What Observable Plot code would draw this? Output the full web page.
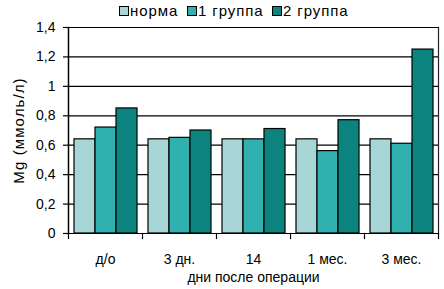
<!DOCTYPE html>
<html>
<head>
<meta charset="utf-8">
<script src="https://cdn.jsdelivr.net/npm/d3@7"></script>
<script src="https://cdn.jsdelivr.net/npm/@observablehq/plot@0.6"></script>
<style>
  html, body { margin: 0; padding: 0; background: #fff; }
  body { width: 444px; height: 289px; overflow: hidden; font-family: "Liberation Sans", Arial, sans-serif; }
  #legend { position: relative; height: 20px; }
  .item { position: absolute; top: 3px; display: flex; align-items: center; font-size: 15px; color: #000; line-height: 15px; letter-spacing: 0.9px; white-space: nowrap; }
  .sw { width: 8px; height: 8px; border: 1px solid #000; margin-right: 1px; }
  #chart g[aria-label="y-axis label"] text { font-size: 15px; letter-spacing: 1.1px; }
</style>
</head>
<body>
<div id="legend"></div>
<div id="chart"></div>
<script>
const categories = ["д/о", "3 дн.", "14", "1 мес.", "3 мес."];
const groups = ["норма", "1 группа", "2 группа"];
const colors = ["#a8d6d6", "#30b0ae", "#0b847f"];
const norma  = [0.64, 0.64, 0.64, 0.64, 0.64];
const group1 = [0.72, 0.65, 0.64, 0.56, 0.61];
const group2 = [0.85, 0.70, 0.71, 0.77, 1.25];
const yTicks = [0, 0.2, 0.4, 0.6, 0.8, 1, 1.2, 1.4];
const yLabel = "Mg (ммоль/л)";
const xLabel = "дни после операции";

const series = [norma, group1, group2];
const data = [];
categories.forEach((c, i) => groups.forEach((g, j) => data.push({cat: c, group: g, value: series[j][i]})));

// legend
const legendPos = [119, 187, 272];
const legend = document.getElementById("legend");
groups.forEach((g, j) => {
  const it = document.createElement("div");
  it.className = "item";
  it.style.left = legendPos[j] + "px";
  const sw = document.createElement("div");
  sw.className = "sw";
  sw.style.background = colors[j];
  const t = document.createElement("span");
  t.textContent = g;
  it.appendChild(sw); it.appendChild(t);
  legend.appendChild(it);
});

const fmt = d => String(d).replace(".", ",");

const chart = Plot.plot({
  width: 444,
  height: 269,
  marginTop: 7,
  marginLeft: 67,
  marginRight: 5,
  marginBottom: 56,
  style: {fontFamily: "'Liberation Sans', Arial, sans-serif", fontSize: "14px", color: "#000", background: "#fff"},
  fx: {domain: categories, padding: 0, label: null},
  x: {domain: groups, paddingInner: 0, paddingOuter: 0.25, axis: null},
  y: {domain: [0, 1.4], axis: null},
  color: {domain: groups, range: colors},
  marks: [
    Plot.ruleY(yTicks, {stroke: "#000", strokeWidth: 1.2}),
    Plot.barY(data, {fx: "cat", x: "group", y: "value", fill: "group", stroke: "#000", strokeWidth: 1.2, inset: 0}),
    Plot.frame({anchor: "left", facetAnchor: "left", stroke: "#000", strokeWidth: 1.5}),
    Plot.frame({anchor: "right", facetAnchor: "right", stroke: "#222", strokeWidth: 1.2}),
    Plot.frame({anchor: "left", stroke: "#000", strokeWidth: 1.2, insetTop: 206, insetBottom: -5}),
    Plot.frame({anchor: "right", facetAnchor: "right", stroke: "#000", strokeWidth: 1.2, insetTop: 206, insetBottom: -5}),
    Plot.axisY({ticks: yTicks, tickFormat: fmt, tickSize: 5, tickPadding: 8, stroke: "#000", strokeWidth: 1.2,
      label: null, fontSize: 14}),
    Plot.axisY({ticks: [], tickSize: 0, label: yLabel, labelAnchor: "center", labelOffset: 55, labelArrow: "none", fontSize: 15}),
    Plot.axisFx({anchor: "bottom", tickSize: 0, tickPadding: 21, label: xLabel, labelAnchor: "center", labelOffset: 48, labelArrow: "none", fontSize: 14})
  ]
});
document.getElementById("chart").appendChild(chart);
</script>
</body>
</html>
